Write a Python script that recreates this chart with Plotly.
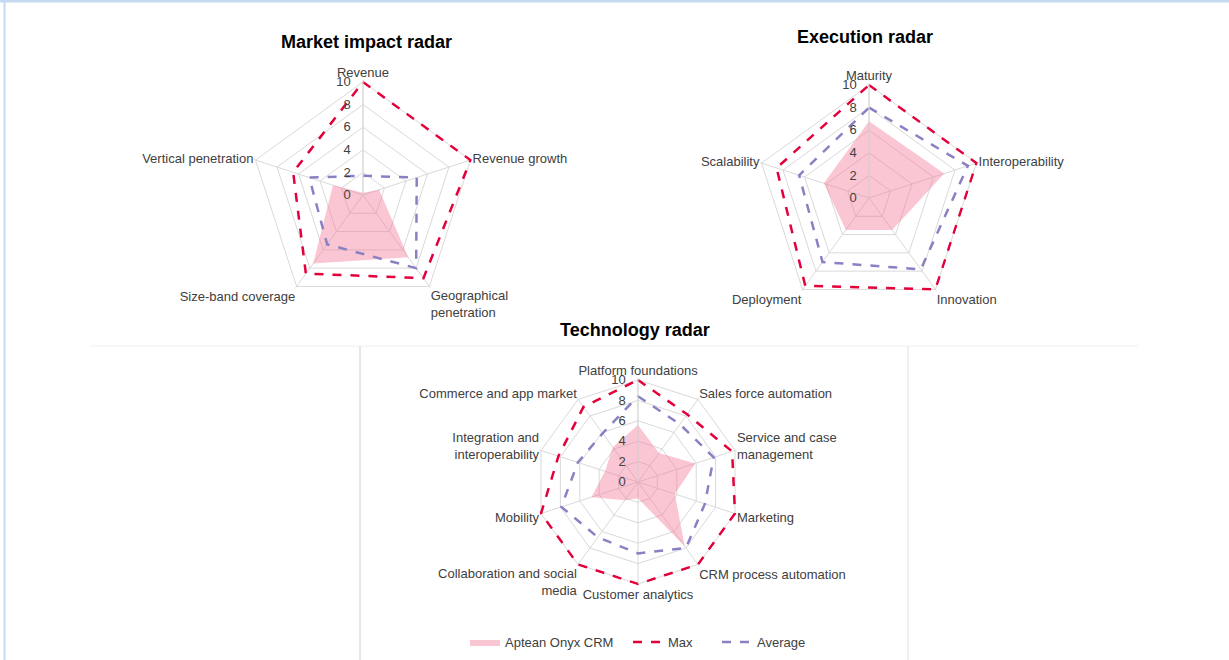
import plotly.graph_objects as go

# ---------------- data ----------------
market_categories = ["Revenue", "Revenue growth", "Geographical<br>penetration",
                     "Size-band coverage", "Vertical penetration"]
market_aptean = [0.2, 1.5, 6.8, 7.5, 2.8]
market_max = [10, 10, 9.1, 8.6, 6.5]
market_avg = [1.7, 5.0, 8.0, 5.4, 5.0]

exec_categories = ["Maturity", "Interoperability", "Innovation", "Deployment", "Scalability"]
exec_aptean = [6.8, 7.0, 3.5, 3.5, 4.2]
exec_max = [10, 10, 10, 9.6, 8.6]
exec_avg = [8.0, 9.2, 7.8, 7.0, 6.5]

tech_categories = ["Platform foundations", "Sales force automation",
                   "Service and case<br>management", "Marketing",
                   "CRM process automation", "Customer analytics",
                   "Collaboration and social<br>media", "Mobility",
                   "Integration and<br>interoperability", "Commerce and app market"]
tech_aptean = [5.6, 3.5, 5.9, 3.8, 7.8, 1.6, 2.2, 4.8, 3.4, 4.2]
tech_max = [10, 8.2, 9.7, 10, 10, 10, 10, 10, 8.2, 9.1]
tech_avg = [8.4, 7.0, 7.8, 6.9, 8.0, 7.0, 6.7, 7.9, 6.2, 5.9]

series_names = ["Aptean Onyx CRM", "Max", "Average"]
radial_ticks = [0, 2, 4, 6, 8, 10]
radial_ticktext = [str(v) + "\u00a0\u00a0" for v in radial_ticks]
titles = ["Market impact radar", "Execution radar", "Technology radar"]

# ---------------- styles ----------------
W, H = 1229, 660
RMAX = 10.15                 # small headroom so lines at 10 are not clipped
PINK = "rgba(245,120,150,0.42)"
RED = "#e4003a"
PURPLE = "#8a80c4"
GRID = "#d9d9d9"
TXT = "#404040"
FONT = "Liberation Sans, Arial, sans-serif"


def px(x):
    return x / W


def py(y):
    return (H - y) / H


def closed(v):
    return list(v) + [v[0]]


fig = go.Figure()

radars = [
    ("polar", market_categories, market_aptean, market_max, market_avg),
    ("polar2", exec_categories, exec_aptean, exec_max, exec_avg),
    ("polar3", tech_categories, tech_aptean, tech_max, tech_avg),
]

legend_ids = ["legend", "legend2", "legend3"]

for i, (sp, cats, apt, mx, av) in enumerate(radars):
    show = (i == 2)
    fig.add_trace(go.Scatterpolar(
        r=closed(apt), theta=closed(cats), subplot=sp, mode="lines",
        fill="toself", fillcolor=PINK, line=dict(width=0, color=PINK),
        name=series_names[0], showlegend=show, legend=legend_ids[0]))
    fig.add_trace(go.Scatterpolar(
        r=closed(mx), theta=closed(cats), subplot=sp, mode="lines",
        line=dict(color=RED, width=2.5, dash="dash"),
        name=series_names[1], showlegend=show, legend=legend_ids[1]))
    fig.add_trace(go.Scatterpolar(
        r=closed(av), theta=closed(cats), subplot=sp, mode="lines",
        line=dict(color=PURPLE, width=2.5, dash="dash"),
        name=series_names[2], showlegend=show, legend=legend_ids[2]))


def polar_layout(cx, cy, r10):
    r = r10 * RMAX / 10
    return dict(
        domain=dict(x=[px(cx - r), px(cx + r)],
                    y=[py(cy + r), py(cy - r)]),
        bgcolor="white",
        gridshape="linear",
        radialaxis=dict(range=[0, RMAX], tickvals=radial_ticks,
                        ticktext=radial_ticktext, angle=90,
                        side="counterclockwise", showline=True, linecolor=GRID,
                        linewidth=1, gridcolor=GRID, gridwidth=1, ticks="",
                        tickfont=dict(size=13, color=TXT, family=FONT),
                        tickangle=90),
        angularaxis=dict(rotation=90, direction="clockwise", showline=False,
                         gridcolor=GRID, ticks="",
                         tickfont=dict(size=13, color=TXT, family=FONT)),
    )


def legend_at(xpage):
    return dict(orientation="h", x=px(xpage), y=py(642), xanchor="left",
                yanchor="middle", font=dict(size=13, color=TXT, family=FONT),
                itemwidth=30, bgcolor="rgba(0,0,0,0)")


fig.update_layout(
    width=W, height=H,
    margin=dict(l=0, r=0, t=0, b=0),
    paper_bgcolor="white",
    plot_bgcolor="white",
    font=dict(family=FONT, color=TXT),
    polar=polar_layout(363, 195, 113),
    polar2=polar_layout(869, 198, 113),
    polar3=polar_layout(638, 482, 102),
    legend=legend_at(465),
    legend2=legend_at(628),
    legend3=legend_at(717),
)

title_pos = [(366, 42), (865, 37), (635, 330)]
for t, (x, y) in zip(titles, title_pos):
    fig.add_annotation(text="<b>" + t + "</b>", x=px(x), y=py(y),
                       xref="paper", yref="paper", showarrow=False,
                       xanchor="center", yanchor="middle",
                       font=dict(size=18, color="#000000", family=FONT))

# frame lines
shapes = [
    dict(type="line", x0=0, x1=1, y0=py(1), y1=py(1),
         line=dict(color="#c5d9f1", width=3)),
    dict(type="line", x0=px(4.5), x1=px(4.5), y0=0, y1=1,
         line=dict(color="#c5d9f1", width=2)),
    dict(type="line", x0=px(90), x1=px(1138), y0=py(346), y1=py(346),
         line=dict(color="#f0f0f0", width=1)),
    dict(type="line", x0=px(360), x1=px(360), y0=0, y1=py(346),
         line=dict(color="#d0d0d0", width=1)),
    dict(type="line", x0=px(908), x1=px(908), y0=0, y1=py(346),
         line=dict(color="#e0e0e0", width=1)),
]
for s in shapes:
    s.update(xref="paper", yref="paper", layer="below")
    fig.add_shape(**s)

fig.write_html("out.html", config={"displayModeBar": False},
               post_script="document.body.style.margin='0';")
